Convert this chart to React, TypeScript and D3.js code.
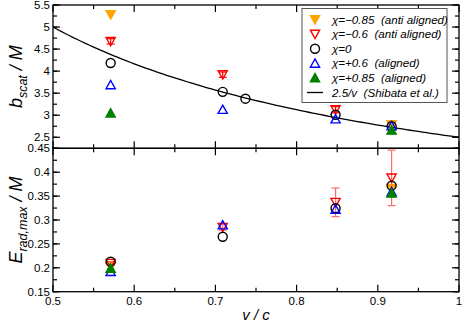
import React from "react";
import * as d3 from "d3";

// ---- data ----
type Pt = { v: number; y: number; e?: number };

const bOrange: Pt[] = [{ v: 0.571, y: 5.28 }, { v: 0.917, y: 2.785 }];
const bRed: Pt[] = [
  { v: 0.571, y: 4.675, e: 0.06 },
  { v: 0.709, y: 3.92, e: 0.06 },
  { v: 0.848, y: 3.125, e: 0.07 },
];
const bBlack: Pt[] = [
  { v: 0.571, y: 4.185 },
  { v: 0.709, y: 3.53 },
  { v: 0.737, y: 3.375 },
  { v: 0.848, y: 3.01 },
  { v: 0.917, y: 2.75 },
];
const bBlue: Pt[] = [
  { v: 0.571, y: 3.69 },
  { v: 0.709, y: 3.13 },
  { v: 0.848, y: 2.915 },
  { v: 0.917, y: 2.76 },
];
const bGreen: Pt[] = [{ v: 0.571, y: 3.05 }, { v: 0.917, y: 2.66 }];

const eOrange: Pt[] = [{ v: 0.571, y: 0.2023 }, { v: 0.917, y: 0.366 }];
const eRed: Pt[] = [
  { v: 0.571, y: 0.2094, e: 0.004 },
  { v: 0.709, y: 0.2847, e: 0.006 },
  { v: 0.848, y: 0.337, e: 0.03 },
  { v: 0.917, y: 0.388, e: 0.058 },
];
const eBlack: Pt[] = [
  { v: 0.571, y: 0.2128 },
  { v: 0.709, y: 0.265 },
  { v: 0.848, y: 0.3245 },
  { v: 0.917, y: 0.3718 },
];
const eBlue: Pt[] = [
  { v: 0.571, y: 0.192 },
  { v: 0.709, y: 0.2896 },
  { v: 0.848, y: 0.3224 },
  { v: 0.917, y: 0.359 },
];
const eGreen: Pt[] = [{ v: 0.571, y: 0.199 }, { v: 0.917, y: 0.356 }];

const xTickLabels = [0.5, 0.6, 0.7, 0.8, 0.9, 1];
const bTickLabels = [2.5, 3, 3.5, 4, 4.5, 5, 5.5];
const eTickLabels = [0.15, 0.2, 0.25, 0.3, 0.35, 0.4, 0.45];

const legendLabels = [
  "χ=−0.85  (anti aligned)",
  "χ=−0.6  (anti aligned)",
  "χ=0",
  "χ=+0.6  (aligned)",
  "χ=+0.85  (aligned)",
  "2.5/v  (Shibata et al.)",
];

// ---- layout ----
const L = 53, R = 459, T = 5, M = 148.3, B = 291.7;
const x = d3.scaleLinear().domain([0.5, 1]).range([L, R]);
const yb = d3.scaleLinear().domain([2.25, 5.5]).range([M, T]);
const ye = d3.scaleLinear().domain([0.15, 0.45]).range([B, M]);

const ORANGE = "#ffa500", RED = "#ff0000", BLUE = "#0000ff", GREEN = "#008000";
const ERR = "#ff6a6a";
const FONT = "'Liberation Sans', Arial, Helvetica, sans-serif";

type Kind = "down" | "up" | "circle";
function Sym({ cx, cy, kind, color, fill }: { cx: number; cy: number; kind: Kind; color: string; fill: boolean }) {
  const s = 4.6;
  if (kind === "circle")
    return <circle cx={cx} cy={cy} r={4.5} fill="none" stroke={color} strokeWidth={1.4} />;
  const pts =
    kind === "down"
      ? `${cx - s},${cy - s * 0.85} ${cx + s},${cy - s * 0.85} ${cx},${cy + s * 0.95}`
      : `${cx - s},${cy + s * 0.85} ${cx + s},${cy + s * 0.85} ${cx},${cy - s * 0.95}`;
  return (
    <polygon points={pts} fill={fill ? color : "white"} fillOpacity={fill ? 1 : 0} stroke={color} strokeWidth={1.4} strokeLinejoin="miter" />
  );
}

function Series({ data, y, kind, color, fill, errColor }: { data: Pt[]; y: d3.ScaleLinear<number, number>; kind: Kind; color: string; fill: boolean; errColor?: string }) {
  return (
    <g>
      {data.map((d, i) => {
        const cx = x(d.v), cy = y(d.y);
        return (
          <g key={i}>
            {d.e !== undefined && (
              <g stroke={errColor || color} strokeWidth={1.2}>
                <line x1={cx} x2={cx} y1={y(d.y + d.e)} y2={y(d.y - d.e)} />
                <line x1={cx - 4} x2={cx + 4} y1={y(d.y + d.e)} y2={y(d.y + d.e)} />
                <line x1={cx - 4} x2={cx + 4} y1={y(d.y - d.e)} y2={y(d.y - d.e)} />
              </g>
            )}
            <Sym cx={cx} cy={cy} kind={kind} color={color} fill={fill} />
          </g>
        );
      })}
    </g>
  );
}

function YTicks({ y, minor, major, labels }: any) {
  return (
    <g stroke="black" strokeWidth={1.2}>
      {minor.map((v: number, i: number) => (
        <g key={"m" + i}>
          <line x1={L} x2={L + 4} y1={y(v)} y2={y(v)} />
          <line x1={R} x2={R - 4} y1={y(v)} y2={y(v)} />
        </g>
      ))}
      {major.map((v: number, i: number) => (
        <g key={"M" + i}>
          <line x1={L} x2={L + 7} y1={y(v)} y2={y(v)} />
          <line x1={R} x2={R - 7} y1={y(v)} y2={y(v)} />
        </g>
      ))}
      {labels.map((v: number, i: number) => (
        <text key={"t" + i} x={L - 3} y={y(v)} dy="0.36em" textAnchor="end" stroke="none" fill="black" fontSize={11.5} fontFamily={FONT}>
          {String(v)}
        </text>
      ))}
    </g>
  );
}

function XTicks({ yTop, yBot }: { yTop: number; yBot: number }) {
  const minor = d3.range(0.55, 1, 0.1);
  const major = xTickLabels;
  return (
    <g stroke="black" strokeWidth={1.2}>
      {minor.map((v, i) => (
        <g key={"m" + i}>
          <line x1={x(v)} x2={x(v)} y1={yTop} y2={yTop + 4} />
          <line x1={x(v)} x2={x(v)} y1={yBot} y2={yBot - 4} />
        </g>
      ))}
      {major.map((v, i) => (
        <g key={"M" + i}>
          <line x1={x(v)} x2={x(v)} y1={yTop} y2={yTop + 7} />
          <line x1={x(v)} x2={x(v)} y1={yBot} y2={yBot - 7} />
        </g>
      ))}
    </g>
  );
}

export default function App() {
  const curveV = d3.range(0.5, 1.0001, 0.005);
  const curve = d3.line<number>().x((v) => x(v)).y((v) => yb(2.5 / v))(curveV) as string;

  const legendRows = [
    { kind: "down" as Kind, color: ORANGE, fill: true },
    { kind: "down" as Kind, color: RED, fill: false },
    { kind: "circle" as Kind, color: "black", fill: false },
    { kind: "up" as Kind, color: BLUE, fill: false },
    { kind: "up" as Kind, color: GREEN, fill: true },
  ];
  const ly0 = 19.5, ldy = 14.6;

  return (
    <svg width={463} height={323} style={{ position: "absolute", left: 0, top: 0, background: "white" }} fontFamily={FONT}>
      <rect x={0} y={0} width={463} height={323} fill="white" />
      <defs>
        <clipPath id="clipTop">
          <rect x={L} y={T} width={R - L} height={M - T} />
        </clipPath>
      </defs>
      {/* top panel */}
      <path d={curve} fill="none" stroke="black" strokeWidth={1.3} clipPath="url(#clipTop)" />
      <YTicks y={yb} minor={d3.range(2.25, 5.5001, 0.25)} major={bTickLabels} labels={bTickLabels} />
      <XTicks yTop={T} yBot={M} />
      <Series data={bOrange} y={yb} kind="down" color={ORANGE} fill={true} />
      <Series data={bRed} y={yb} kind="down" color={RED} fill={false} errColor={RED} />
      <Series data={bBlack} y={yb} kind="circle" color="black" fill={false} />
      <Series data={bBlue} y={yb} kind="up" color={BLUE} fill={false} />
      <Series data={bGreen} y={yb} kind="up" color={GREEN} fill={true} />

      {/* bottom panel */}
      <YTicks y={ye} minor={d3.range(0.15, 0.4501, 0.025)} major={eTickLabels} labels={eTickLabels} />
      <XTicks yTop={M} yBot={B} />
      <Series data={eOrange} y={ye} kind="down" color={ORANGE} fill={true} />
      <Series data={eRed} y={ye} kind="down" color={RED} fill={false} errColor={ERR} />
      <Series data={eBlack} y={ye} kind="circle" color="black" fill={false} />
      <Series data={eBlue} y={ye} kind="up" color={BLUE} fill={false} />
      <Series data={eGreen} y={ye} kind="up" color={GREEN} fill={true} />

      {/* frames */}
      <rect x={L} y={T} width={R - L} height={M - T} fill="none" stroke="black" strokeWidth={1.3} />
      <rect x={L} y={M} width={R - L} height={B - M} fill="none" stroke="black" strokeWidth={1.3} />

      {/* x tick labels */}
      {xTickLabels.map((v, i) => (
        <text key={i} x={x(v)} y={B + 13} textAnchor="middle" fontSize={11.5}>
          {String(v)}
        </text>
      ))}

      {/* axis titles */}
      <text transform={`translate(22,${(T + M) / 2}) rotate(-90)`} textAnchor="middle" fontStyle="italic" fontSize={18}>
        <tspan>b</tspan>
        <tspan fontSize={12.5} dy={5}>scat</tspan>
        <tspan dy={-5}>{"  / M"}</tspan>
      </text>
      <text transform={`translate(22,${(M + B) / 2}) rotate(-90)`} textAnchor="middle" fontStyle="italic" fontSize={18}>
        <tspan>E</tspan>
        <tspan fontSize={12.5} dy={5}>rad,max</tspan>
        <tspan dy={-5}>{"  / M"}</tspan>
      </text>
      <text x={(L + R) / 2} y={320} textAnchor="middle" fontStyle="italic" fontSize={15} style={{ whiteSpace: "pre" }}>
        {"v / c"}
      </text>

      {/* legend */}
      <rect x={302} y={8.5} width={145} height={94} fill="white" stroke="#555" strokeWidth={1} />
      {legendRows.map((r, i) => (
        <Sym key={i} cx={315} cy={ly0 + i * ldy} kind={r.kind} color={r.color} fill={r.fill} />
      ))}
      <line x1={307} x2={323} y1={ly0 + 5 * ldy} y2={ly0 + 5 * ldy} stroke="black" strokeWidth={1.3} />
      {legendLabels.map((t, i) => (
        <text key={i} x={332} y={ly0 + i * ldy} dy="0.36em" fontStyle="italic" fontSize={11.6} style={{ whiteSpace: "pre" }}>
          {t}
        </text>
      ))}
    </svg>
  );
}
